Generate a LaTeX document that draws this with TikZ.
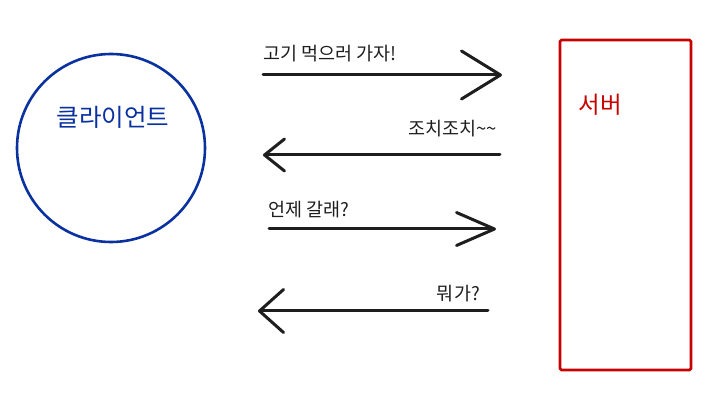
\documentclass[tikz,border=0pt]{standalone}
\usepackage{fontspec}
\setmainfont{Noto Sans CJK KR}
\usetikzlibrary{arrows.meta}
\definecolor{ink}{HTML}{1E1E1E}
\definecolor{clientblue}{HTML}{0A31A0}
\definecolor{serverred}{HTML}{C80000}
\tikzset{
  msg/.style={draw=ink, line width=3pt, line cap=round,
    -{Straight Barb[length=39pt, width=48pt, line width=3pt, round]}},
  msgtext/.style={inner sep=0pt, text=ink, font=\fontsize{18.5}{22}\selectfont},
  actortext/.style={inner sep=0pt, font=\fontsize{24}{28}\selectfont}
}
\begin{document}
\begin{tikzpicture}[x=1pt, y=-1pt]
\useasboundingbox (0,0) rectangle (713,406);
% client
\node[circle, draw=clientblue, line width=2.6pt, minimum size=188pt, inner sep=0pt] (client) at (111,148) {};
\node[actortext, text=clientblue, font=\fontsize{24.5}{28}\selectfont] (clientlabel) at (113,117) {클라이언트};
% server
\node[draw=serverred, line width=2.6pt, minimum width=131pt, minimum height=330pt, inner sep=0pt, rounded corners=1.5pt] (server) at (625.5,205) {};
\node[actortext, text=serverred, font=\fontsize{23.5}{28}\selectfont] (serverlabel) at (600,105) {서버};
% arrow endpoints
\coordinate (a1s) at (263,75);  \coordinate (a1e) at (502,75);
\coordinate (a2s) at (500,155); \coordinate (a2e) at (263,155);
\coordinate (a3s) at (269,229); \coordinate (a3e) at (496,229);
\coordinate (a4s) at (488,311); \coordinate (a4e) at (258,311);
\draw[msg] (a1s) -- (a1e);
\draw[msg, -{Straight Barb[length=20pt, width=32pt, line width=3pt, round]}] (a2s) -- (a2e);
\draw[msg, -{Straight Barb[length=38pt, width=33pt, line width=3pt, round]}] (a3s) -- (a3e);
\draw[msg, -{Straight Barb[length=24pt, width=43pt, line width=3pt, round]}] (a4s) -- (a4e);
% labels
\node[msgtext, anchor=west] (t1) at (263,54) {고기 먹으러 가자!};
\node[msgtext, anchor=east] (t2) at (497,129) {조치조치\textasciitilde\textasciitilde};
\node[msgtext, anchor=west] (t3) at (268,210) {언제 갈래?};
\node[msgtext, anchor=east] (t4) at (480,294) {뭐가?};
\end{tikzpicture}
\end{document}
